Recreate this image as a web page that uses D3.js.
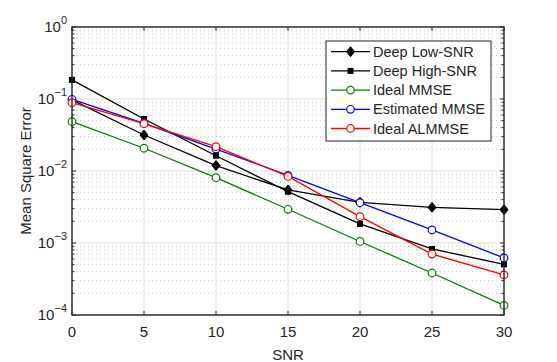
<!DOCTYPE html>
<html>
<head>
<meta charset="utf-8">
<script src="https://cdn.jsdelivr.net/npm/d3@7"></script>
<style>
  body { margin: 0; background: #fff; }
  text { font-family: "Liberation Sans", Arial, sans-serif; fill: #262626; }
</style>
</head>
<body>
<div id="chart"></div>
<script>
let width = 557
  , height = 362
  , marginLeft = 72
  , marginTop = 27
  , plotW = 432
  , plotH = 288;

// SNR values on the x axis
let snr = [0, 5, 10, 15, 20, 25, 30];

// MSE per curve
let deepLow = [0.097, 0.0316, 0.0119, 0.00545, 0.00367, 0.00313, 0.0029];
let deepHigh = [0.184, 0.0527, 0.0163, 0.00516, 0.00184, 0.000826, 0.000506];
let idealMmse = [0.0484, 0.0207, 0.00807, 0.00294, 0.00105, 0.000383, 0.000136];
let estMmse = [0.099, 0.046, 0.0202, 0.0087, 0.00363, 0.00152, 0.00062];
let idealAlmmse = [0.0889, 0.0454, 0.0218, 0.0084, 0.00232, 0.000703, 0.00036];

let xTicks = [0, 5, 10, 15, 20, 25, 30];
let yExps = [0, -1, -2, -3, -4];

let series = [
  { name: 'Deep Low-SNR', values: deepLow, color: '#000000', marker: 'diamond' },
  { name: 'Deep High-SNR', values: deepHigh, color: '#000000', marker: 'square' },
  { name: 'Ideal MMSE', values: idealMmse, color: '#008000', marker: 'circle' },
  { name: 'Estimated MMSE', values: estMmse, color: '#0000ff', marker: 'circle' },
  { name: 'Ideal ALMMSE', values: idealAlmmse, color: '#ff0000', marker: 'circle' }
];

let x = d3.scaleLinear().domain([0, 30]).range([marginLeft, marginLeft + plotW]);
let y = d3.scaleLog().domain([1e-4, 1]).range([marginTop + plotH, marginTop]);

let svg = d3.select('#chart').append('svg').attr('width', width).attr('height', height);

// minor grid (dotted) at 2..9 of each decade
let minorVals = [];
for (let e = -4; e < 0; e++) {
  for (let m = 2; m <= 9; m++) minorVals.push(m * Math.pow(10, e));
}
svg.append('g').selectAll('line').data(minorVals).enter().append('line')
  .attr('x1', marginLeft).attr('x2', marginLeft + plotW)
  .attr('y1', d => y(d)).attr('y2', d => y(d))
  .attr('stroke', '#c8c8c8').attr('stroke-width', 1).attr('stroke-dasharray', '1,3');

// major grid
svg.append('g').selectAll('line').data(yExps).enter().append('line')
  .attr('x1', marginLeft).attr('x2', marginLeft + plotW)
  .attr('y1', d => y(Math.pow(10, d))).attr('y2', d => y(Math.pow(10, d)))
  .attr('stroke', '#dfdfdf').attr('stroke-width', 1);
svg.append('g').selectAll('line').data(xTicks).enter().append('line')
  .attr('x1', d => x(d)).attr('x2', d => x(d))
  .attr('y1', marginTop).attr('y2', marginTop + plotH)
  .attr('stroke', '#dfdfdf').attr('stroke-width', 1);

// ticks inside the box, all four sides
let tk = svg.append('g').attr('stroke', '#262626').attr('stroke-width', 1);
xTicks.forEach(d => {
  tk.append('line').attr('x1', x(d)).attr('x2', x(d)).attr('y1', marginTop + plotH).attr('y2', marginTop + plotH - 4);
  tk.append('line').attr('x1', x(d)).attr('x2', x(d)).attr('y1', marginTop).attr('y2', marginTop + 4);
});
yExps.forEach(d => {
  let yy = y(Math.pow(10, d));
  tk.append('line').attr('x1', marginLeft).attr('x2', marginLeft + 4).attr('y1', yy).attr('y2', yy);
  tk.append('line').attr('x1', marginLeft + plotW).attr('x2', marginLeft + plotW - 4).attr('y1', yy).attr('y2', yy);
});
minorVals.forEach(d => {
  let yy = y(d);
  tk.append('line').attr('x1', marginLeft).attr('x2', marginLeft + 2.5).attr('y1', yy).attr('y2', yy);
  tk.append('line').attr('x1', marginLeft + plotW).attr('x2', marginLeft + plotW - 2.5).attr('y1', yy).attr('y2', yy);
});

// series lines
let line = d3.line().x((d, i) => x(snr[i])).y(d => y(d));
series.forEach(s => {
  let g = svg.append('g');
  g.append('path').datum(s.values).attr('d', line)
    .attr('fill', 'none').attr('stroke', s.color).attr('stroke-width', 1.3);
  drawMarkers(g, s, s.values.map((v, i) => [x(snr[i]), y(v)]));
});

function drawMarkers(g, s, pts) {
  pts.forEach(p => {
    if (s.marker === 'diamond') {
      g.append('path').attr('d', `M${p[0]},${p[1] - 5}L${p[0] + 4},${p[1]}L${p[0]},${p[1] + 5}L${p[0] - 4},${p[1]}Z`)
        .attr('fill', s.color).attr('stroke', s.color);
    } else if (s.marker === 'square') {
      g.append('rect').attr('x', p[0] - 3).attr('y', p[1] - 3).attr('width', 6).attr('height', 6)
        .attr('fill', s.color);
    } else {
      g.append('circle').attr('cx', p[0]).attr('cy', p[1]).attr('r', 3.8)
        .attr('fill', '#fff').attr('stroke', s.color).attr('stroke-width', 1.2);
    }
  });
}

// axes box
svg.append('rect').attr('x', marginLeft).attr('y', marginTop).attr('width', plotW).attr('height', plotH)
  .attr('fill', 'none').attr('stroke', '#262626').attr('stroke-width', 1.4);

// x tick labels
svg.append('g').selectAll('text').data(xTicks).enter().append('text')
  .attr('x', d => x(d)).attr('y', marginTop + plotH + 22)
  .attr('text-anchor', 'middle').style('font-size', '15px').text(d => d);

// y tick labels 10^n
yExps.forEach(e => {
  let t = svg.append('text').attr('x', marginLeft - 5).attr('y', y(Math.pow(10, e)) + 5)
    .attr('text-anchor', 'end').style('font-size', '15px');
  t.append('tspan').text('10');
  t.append('tspan').attr('dy', -8).style('font-size', '11px').text(e === 0 ? '0' : '\u2212' + (-e));
});

// axis titles
svg.append('text').attr('x', marginLeft + plotW / 2).attr('y', 360)
  .attr('text-anchor', 'middle').style('font-size', '15px').text('SNR');
svg.append('text').attr('transform', `translate(31,${marginTop + plotH / 2}) rotate(-90)`)
  .attr('text-anchor', 'middle').style('font-size', '15px').text('Mean Square Error');

// legend
let lg = svg.append('g');
lg.append('rect').attr('x', 326).attr('y', 41).attr('width', 165).attr('height', 100)
  .attr('fill', '#fff').attr('stroke', '#262626').attr('stroke-width', 1);
series.forEach((s, i) => {
  let yy = 51.7 + i * 19.2;
  lg.append('line').attr('x1', 331).attr('x2', 370).attr('y1', yy).attr('y2', yy)
    .attr('stroke', s.color).attr('stroke-width', 1.3);
  drawMarkers(lg, s, [[350.5, yy]]);
  lg.append('text').attr('x', 373).attr('y', yy + 5).style('font-size', '14.5px').text(s.name);
});
</script>
</body>
</html>
